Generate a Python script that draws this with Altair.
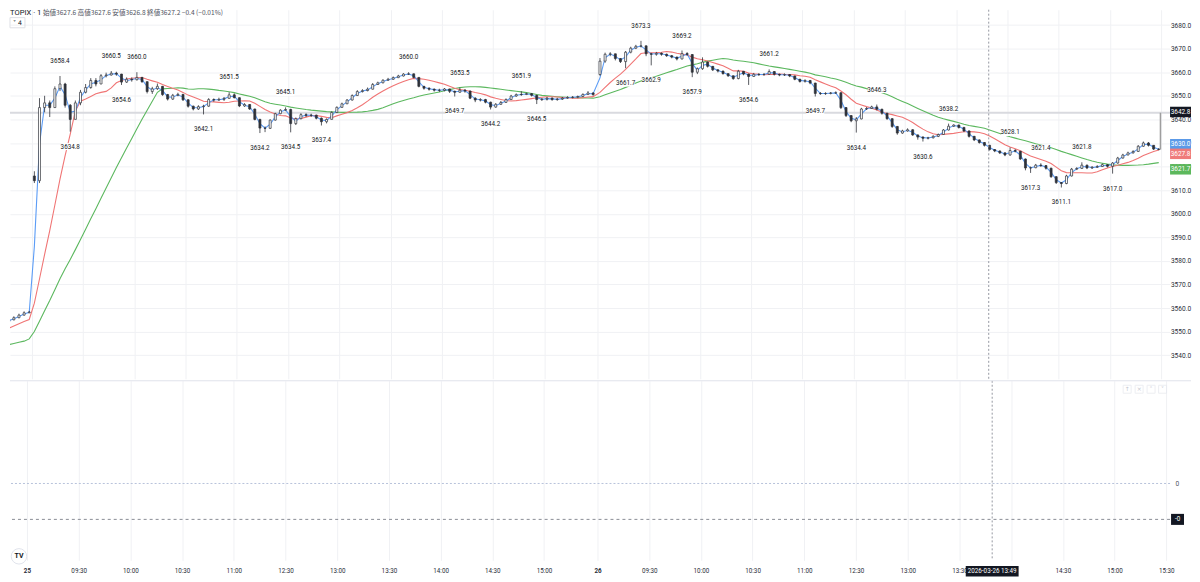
import altair as alt
import pandas as pd

# ---------------- data (3-minute candles) ----------------
# tail of the previous session (only the last few candles are inside the view)
pre_close = [3534.5, 3535.2, 3536.0, 3535.6, 3537.0, 3538.2, 3539.0, 3540.5, 3541.2, 3542.8,
             3544.0, 3545.2, 3546.0, 3547.5, 3548.3, 3549.6, 3550.4, 3551.8, 3552.6, 3553.4,
             3554.2, 3555.0, 3555.9, 3557.0, 3558.0, 3558.3]
pre_high = [3535.2, 3535.9, 3536.6, 3536.4, 3537.6, 3538.8, 3539.7, 3541.1, 3541.9, 3543.4,
            3544.6, 3545.8, 3546.7, 3548.1, 3549.0, 3550.2, 3551.0, 3552.4, 3553.2, 3554.0,
            3554.8, 3555.6, 3556.5, 3557.6, 3558.6, 3558.8]
pre_low = [3533.8, 3534.3, 3535.1, 3535.0, 3535.4, 3536.8, 3538.1, 3538.8, 3540.4, 3541.0,
           3542.6, 3543.8, 3545.1, 3545.8, 3547.4, 3548.1, 3549.5, 3550.2, 3551.6, 3552.4,
           3553.3, 3554.0, 3554.8, 3555.7, 3556.8, 3557.8]

# 25 Mar
d1_close = [3614.0, 3645.0, 3647.0, 3645.0, 3653.0, 3655.0, 3646.0, 3640.0, 3647.0, 3651.5,
            3653.5, 3656.5, 3655.0, 3658.5, 3658.8, 3659.6, 3659.2, 3655.8, 3657.0, 3656.8,
            3657.8, 3656.0, 3651.8, 3653.0, 3654.0, 3650.5, 3648.6, 3650.2, 3650.6, 3648.3,
            3645.6, 3644.4, 3645.4, 3645.6, 3648.4, 3648.2, 3648.5, 3648.9, 3650.4, 3649.2,
            3645.7, 3646.3, 3644.4, 3640.0, 3636.3, 3636.2, 3639.7, 3642.4, 3643.9, 3644.2,
            3638.2, 3640.3, 3642.0, 3641.7, 3641.8, 3640.5, 3639.0, 3640.0, 3642.9, 3645.1,
            3646.6, 3648.2, 3650.1, 3651.8, 3652.2, 3652.8, 3654.8, 3655.5, 3656.6, 3657.0,
            3657.7, 3658.4, 3659.2, 3659.3, 3657.8, 3654.0, 3653.2, 3652.8, 3652.4, 3652.3,
            3652.9, 3651.9, 3651.5, 3652.4, 3652.0, 3649.0, 3648.2, 3648.4, 3647.3, 3645.2,
            3646.4, 3647.2, 3648.4, 3649.9, 3650.5, 3650.6, 3650.9, 3650.2, 3648.4, 3648.6,
            3649.0, 3648.4, 3648.6, 3649.0, 3649.3, 3649.4, 3649.7, 3650.6, 3651.2, 3650.5]
d1_high = [3618.0, 3649.0, 3650.0, 3648.0, 3654.0, 3658.4, 3655.5, 3646.5, 3648.0, 3652.5,
           3655.0, 3657.5, 3657.5, 3659.2, 3659.8, 3660.5, 3660.2, 3659.3, 3657.8, 3657.8,
           3660.0, 3658.0, 3656.0, 3653.8, 3655.2, 3654.2, 3650.8, 3650.8, 3651.3, 3650.8,
           3648.5, 3645.8, 3646.0, 3646.2, 3649.0, 3648.9, 3649.2, 3649.5, 3651.5, 3651.0,
           3649.3, 3646.9, 3646.5, 3644.5, 3640.2, 3637.0, 3640.0, 3642.8, 3644.3, 3645.1,
           3644.5, 3640.8, 3642.6, 3642.6, 3642.4, 3642.0, 3640.8, 3640.4, 3643.4, 3645.5,
           3647.1, 3648.6, 3650.6, 3652.4, 3652.8, 3653.5, 3655.4, 3656.0, 3657.0, 3657.6,
           3658.2, 3658.9, 3659.6, 3660.0, 3659.4, 3657.8, 3654.2, 3653.6, 3653.1, 3653.0,
           3653.3, 3653.0, 3652.2, 3653.5, 3652.8, 3652.2, 3649.4, 3649.0, 3648.7, 3647.5,
           3646.9, 3647.8, 3648.9, 3650.4, 3651.0, 3651.9, 3651.3, 3651.2, 3650.4, 3649.0,
           3649.5, 3649.3, 3649.1, 3649.5, 3649.8, 3649.9, 3650.1, 3651.0, 3652.0, 3651.5]
d1_low = [3613.0, 3613.0, 3643.0, 3641.0, 3645.0, 3652.0, 3645.0, 3634.8, 3640.0, 3646.0,
          3651.0, 3653.0, 3654.0, 3655.0, 3657.8, 3658.6, 3658.5, 3654.6, 3655.5, 3656.0,
          3656.5, 3655.5, 3651.0, 3650.8, 3652.5, 3650.0, 3648.0, 3648.3, 3649.8, 3647.8,
          3645.0, 3643.8, 3644.0, 3642.1, 3645.3, 3647.5, 3647.9, 3647.8, 3648.8, 3648.9,
          3645.2, 3645.3, 3644.0, 3639.6, 3634.2, 3634.6, 3636.0, 3639.5, 3642.2, 3643.5,
          3634.5, 3637.6, 3640.0, 3641.0, 3641.0, 3640.0, 3637.4, 3638.3, 3640.0, 3642.8,
          3645.0, 3646.5, 3648.0, 3650.0, 3651.4, 3651.9, 3652.7, 3654.6, 3655.3, 3656.3,
          3656.8, 3657.5, 3658.2, 3658.9, 3657.4, 3653.6, 3652.6, 3652.2, 3651.8, 3651.6,
          3651.9, 3651.2, 3649.7, 3651.3, 3651.3, 3648.6, 3647.3, 3647.6, 3646.8, 3644.2,
          3645.0, 3646.2, 3647.0, 3648.2, 3649.6, 3650.0, 3650.3, 3649.7, 3646.5, 3647.8,
          3648.0, 3647.9, 3647.9, 3648.3, 3648.7, 3648.9, 3649.0, 3649.5, 3650.5, 3650.0]

# 26 Mar
d2_close = [3664.7, 3667.6, 3667.8, 3665.8, 3664.5, 3668.5, 3670.2, 3671.0, 3671.2, 3667.8,
            3667.6, 3668.0, 3667.6, 3667.0, 3666.4, 3665.6, 3667.9, 3667.5, 3660.0, 3661.5,
            3664.3, 3662.5, 3661.0, 3660.5, 3659.4, 3658.5, 3657.3, 3660.4, 3659.2, 3658.2,
            3659.1, 3659.0, 3659.1, 3660.3, 3659.1, 3658.8, 3659.0, 3658.4, 3657.0, 3656.1,
            3656.5, 3655.4, 3651.0, 3650.9, 3651.0, 3651.2, 3651.3, 3645.0, 3641.6, 3639.4,
            3640.2, 3644.4, 3644.6, 3645.3, 3644.3, 3642.6, 3640.3, 3637.0, 3634.2, 3635.1,
            3635.6, 3633.4, 3632.5, 3632.0, 3632.2, 3632.8, 3633.6, 3635.5, 3637.1, 3637.6,
            3636.6, 3635.1, 3632.8, 3631.3, 3630.2, 3629.0, 3627.2, 3626.6, 3625.8, 3624.9,
            3626.8, 3626.5, 3623.2, 3619.4, 3619.5, 3620.6, 3620.4, 3619.3, 3615.7, 3613.2,
            3612.8, 3616.0, 3618.9, 3619.2, 3620.6, 3619.4, 3619.7, 3620.0, 3620.8, 3620.1,
            3621.5, 3623.6, 3624.9, 3625.8, 3626.4, 3628.6, 3630.0, 3629.0, 3627.4, 3627.2]
d2_high = [3666.0, 3668.3, 3668.5, 3667.8, 3666.0, 3669.0, 3670.8, 3671.6, 3673.3, 3671.2,
           3668.2, 3668.6, 3668.4, 3667.9, 3667.3, 3666.6, 3669.2, 3668.5, 3667.6, 3662.0,
           3666.3, 3664.5, 3662.6, 3661.2, 3660.6, 3659.5, 3658.5, 3661.0, 3660.5, 3659.4,
           3659.7, 3659.6, 3659.6, 3661.2, 3660.4, 3659.4, 3659.5, 3659.2, 3658.5, 3657.2,
           3657.0, 3656.7, 3655.5, 3651.6, 3651.5, 3651.6, 3651.9, 3651.4, 3645.2, 3641.8,
           3641.0, 3644.9, 3645.2, 3645.8, 3646.3, 3644.5, 3642.8, 3640.5, 3637.2, 3635.6,
           3636.2, 3635.8, 3633.6, 3632.8, 3632.6, 3633.3, 3634.0, 3635.9, 3638.2, 3637.9,
           3637.8, 3636.8, 3635.3, 3633.0, 3631.5, 3630.4, 3629.2, 3627.4, 3626.8, 3625.9,
           3628.1, 3627.4, 3626.6, 3623.4, 3620.0, 3621.1, 3621.4, 3620.6, 3619.5, 3615.9,
           3613.4, 3616.5, 3619.4, 3619.7, 3621.8, 3620.8, 3620.2, 3620.6, 3621.3, 3621.0,
           3621.9, 3624.1, 3625.4, 3626.3, 3626.9, 3629.1, 3630.6, 3630.4, 3629.0, 3627.8]
d2_low = [3658.5, 3664.0, 3666.8, 3665.0, 3663.9, 3661.7, 3668.0, 3669.8, 3670.5, 3666.8,
          3662.9, 3667.0, 3667.0, 3666.5, 3665.9, 3665.0, 3665.5, 3667.0, 3657.9, 3659.2,
          3661.0, 3662.0, 3660.5, 3659.9, 3659.0, 3658.0, 3656.8, 3657.0, 3658.7, 3654.6,
          3658.0, 3658.4, 3658.5, 3658.9, 3658.6, 3658.3, 3658.4, 3657.9, 3656.6, 3655.6,
          3655.6, 3654.9, 3649.7, 3650.4, 3650.4, 3650.6, 3650.8, 3644.4, 3641.0, 3638.8,
          3634.4, 3640.0, 3644.0, 3644.4, 3643.8, 3642.0, 3639.8, 3636.4, 3633.5, 3633.9,
          3634.8, 3633.0, 3631.4, 3630.6, 3631.5, 3631.9, 3632.5, 3633.4, 3635.3, 3636.8,
          3636.1, 3634.6, 3632.3, 3630.8, 3629.7, 3628.5, 3626.8, 3626.1, 3625.3, 3624.4,
          3624.6, 3626.0, 3622.8, 3618.4, 3617.3, 3619.3, 3619.9, 3618.7, 3615.2, 3612.6,
          3611.1, 3612.5, 3615.8, 3618.5, 3619.0, 3618.9, 3619.0, 3619.4, 3619.8, 3619.6,
          3617.0, 3621.2, 3623.4, 3624.8, 3625.5, 3626.2, 3628.4, 3628.5, 3627.0, 3626.9]

session_open = [3534.0, 3616.0, 3659.0]       # first traded price of each block
session_start = [-78, 0, 331]                 # trading-minute index where each block begins
BAR_MIN = 3                                   # minutes per candle

# swing high / low annotations: (block, candle index, value, kind)
label_block = [1] * 17 + [2] * 18
label_idx = [5, 7, 15, 17, 20, 33, 38, 44, 49, 50, 56, 73, 82, 83, 89, 95, 98,
             5, 8, 10, 16, 18, 29, 33, 42, 50, 54, 63, 68, 80, 84, 86, 90, 94, 100]
label_val = [3658.4, 3634.8, 3660.5, 3654.6, 3660.0, 3642.1, 3651.5, 3634.2, 3645.1, 3634.5,
             3637.4, 3660.0, 3649.7, 3653.5, 3644.2, 3651.9, 3646.5,
             3661.7, 3673.3, 3662.9, 3669.2, 3657.9, 3654.6, 3661.2, 3649.7, 3634.4, 3646.3,
             3630.6, 3638.2, 3628.1, 3617.3, 3621.4, 3611.1, 3621.8, 3617.0]
label_kind = ["H", "L", "H", "L", "H", "L", "H", "L", "H", "L", "L", "H", "L", "H", "L", "H", "L",
              "L", "H", "L", "H", "L", "L", "H", "L", "L", "H", "L", "H", "H", "L", "H", "L", "H", "L"]

# time axis (the 14:00 label of the 26th is hidden under the cursor's time tag)
tick_vals = [0, 30, 60, 90, 120, 150, 180, 210, 240, 270, 300,
             331, 361, 391, 421, 451, 481, 511, 541, 571, 601, 631, 661]
tick_text = ["25", "09:30", "10:00", "10:30", "11:00", "12:30", "13:00", "13:30", "14:00", "14:30", "15:00",
             "26", "09:30", "10:00", "10:30", "11:00", "12:30", "13:00", "13:30", "", "14:30", "15:00", "15:30"]
price_ticks = [3540, 3550, 3560, 3570, 3580, 3590, 3600, 3610, 3620, 3630, 3640, 3650, 3660, 3670, 3680]

cursor_t = [560]
cursor_price = [3642.8]
cursor_time_text = "2026-03-26  13:49"
closing_t = [660.5]
closing_lo = [3627.2]
closing_hi = [3642.8]

box_vals = [3642.8, 3630.0, 3627.8, 3621.7]
indicator_levels = [0.0, -0.3]
indicator_texts = ["0", "-0"]

header_symbol = "TOPIX · 1"
header_ohlc = "始値3627.6  高値3627.6  安値3626.8  終値3627.2  −0.4 (−0.01%)"
header_badge = "˅ 4"

# ---------------- build tables ----------------
rows = []
blocks = [(pre_close, pre_high, pre_low), (d1_close, d1_high, d1_low), (d2_close, d2_high, d2_low)]
for b, (cl, hi, lo) in enumerate(blocks):
    prev = session_open[b]
    for i, (c, h, l) in enumerate(zip(cl, hi, lo)):
        rows.append({"t": session_start[b] + BAR_MIN * i + BAR_MIN / 2, "o": prev, "h": h, "l": l, "c": c})
        prev = c
df = pd.DataFrame(rows)

lab_df = pd.DataFrame({
    "t": [session_start[b] + BAR_MIN * i + BAR_MIN / 2 for b, i in zip(label_block, label_idx)],
    "v": label_val,
    "kind": label_kind,
})

# ---------------- styling ----------------
W, H1, H2 = 1163, 370, 180
X_DOMAIN = [-9.84, 663.2]
Y_DOMAIN = [3530.0, 3686.5]
LOW_DOMAIN = [-0.642, 0.858]
INK = "#131722"
CANDLE = "#2e3138"
GRID = "#f0f1f4"
FONT = "Roboto"
CJK = "Noto Sans CJK JP"
BLUE, RED, GREEN = "#5b9cf6", "#f07575", "#5cb85f"
box_colors = [INK, "#5b9ae8", "#ef7b7b", "#5cb85c"]
box_offsets = [-0.8, 1.3, 5.7, 6.8]
RECT = "M-1,-0.39L1,-0.39L1,0.39L-1,0.39Z"
AX_C = 10.5          # centre of the price-scale labels right of the plot

xs = alt.Scale(domain=X_DOMAIN, nice=False, zero=False)
ys = alt.Scale(domain=Y_DOMAIN, nice=False, zero=False)
yl = alt.Scale(domain=LOW_DOMAIN, nice=False, zero=False)

x_grid_axis = alt.Axis(values=tick_vals, labels=False, ticks=False, domain=False, grid=True,
                       gridColor=GRID, title=None, zindex=0)
y_axis = alt.Axis(values=price_ticks, format=".1f", orient="right", grid=True, gridColor=GRID,
                  ticks=False, tickSize=0, domain=False, labelPadding=AX_C, labelAlign="center",
                  labelFontSize=6.6, labelColor="#2a2e39", labelFont=FONT, title=None, zindex=0)


def X(field="t:Q"):
    return alt.X(field, scale=xs, axis=x_grid_axis)


def Y(field):
    return alt.Y(field, scale=ys, axis=y_axis)


base = (alt.Chart(df)
        .transform_window(ma_s="mean(c)", frame=[-1, 0], sort=[alt.SortField("t")])
        .transform_window(ma_m="mean(c)", frame=[-8, 0], sort=[alt.SortField("t")])
        .transform_window(ma_l="mean(c)", frame=[-24, 0], sort=[alt.SortField("t")]))

hline = alt.Chart(pd.DataFrame({"v": cursor_price})).mark_rule(color="#d9dadf", strokeWidth=2).encode(
    y=Y("v:Q"), x=alt.value(0), x2=alt.value(W))

ma_green = base.mark_line(color=GREEN, strokeWidth=1.1, clip=True).encode(x=X(), y=Y("ma_l:Q"))
ma_red = base.mark_line(color=RED, strokeWidth=1.1, clip=True).encode(x=X(), y=Y("ma_m:Q"))
ma_blue = base.mark_line(color=BLUE, strokeWidth=1.1, clip=True).encode(x=X(), y=Y("ma_s:Q"))

wick = base.mark_rule(color=CANDLE, strokeWidth=0.8, clip=True).encode(x=X(), y=Y("l:Q"), y2="h:Q")
body = base.mark_bar(size=2.0, stroke=CANDLE, strokeWidth=0.7, clip=True).encode(
    x=X(), y=Y("o:Q"), y2="c:Q",
    fill=alt.condition("datum.c >= datum.o", alt.value("#ffffff"), alt.value(CANDLE)))

closing = alt.Chart(pd.DataFrame({"t": closing_t, "lo": closing_lo, "hi": closing_hi})).mark_rule(
    color="#9e9e9e", strokeWidth=1.5).encode(x=X(), y=Y("lo:Q"), y2="hi:Q")

lab_layers = []
for kind, off in [("H", -15), ("L", 15)]:
    src = alt.Chart(lab_df).transform_filter(f"datum.kind == '{kind}'")
    lab_layers.append(src.mark_point(shape=RECT, size=324, filled=True, color="white", opacity=1,
                                     yOffset=off).encode(x=X(), y=Y("v:Q")))
    lab_layers.append(src.mark_text(fontSize=6.3, font=FONT, color=INK, yOffset=off, baseline="middle").encode(
        x=X(), y=Y("v:Q"), text=alt.Text("v:Q", format=".1f")))

vcross = alt.Chart(pd.DataFrame({"t": cursor_t})).mark_rule(
    color="#9598a1", strokeDash=[2, 2], strokeWidth=1).encode(x=X())

box_layers = []
for v, col, off in zip(box_vals, box_colors, box_offsets):
    src = alt.Chart(pd.DataFrame({"v": [v]}))
    box_layers.append(src.mark_point(shape="M-1,-0.5L1,-0.5L1,0.5L-1,0.5Z", size=441, filled=True,
                                     color=col, opacity=1, yOffset=off).encode(
        x=alt.value(W + AX_C), y=Y("v:Q")))
    box_layers.append(src.mark_text(fontSize=6.4, font=FONT, color="white", yOffset=off, baseline="middle").encode(
        x=alt.value(W + AX_C), y=Y("v:Q"), text=alt.Text("v:Q", format=".1f")))

one = alt.Chart(pd.DataFrame({"a": [0]}))
hdr1 = one.mark_text(align="left", baseline="middle", fontSize=7.6, font=FONT, color=INK).encode(
    x=alt.value(0), y=alt.value(3.5), text=alt.value(header_symbol))
hdr2 = one.mark_text(align="left", baseline="middle", fontSize=6.6, font=CJK, color="#50535e").encode(
    x=alt.value(33), y=alt.value(3.5), text=alt.value(header_ohlc))
badge_box = one.mark_point(shape="M-1,-0.68L1,-0.68L1,0.68L-1,0.68Z", size=225, filled=False,
                           color="#d1d4dc", strokeWidth=1).encode(x=alt.value(7.5), y=alt.value(13))
badge_txt = one.mark_text(fontSize=6.3, font="DejaVu Sans", color=INK, baseline="middle").encode(
    x=alt.value(7.5), y=alt.value(13), text=alt.value(header_badge))

top = alt.layer(hline, ma_green, ma_red, ma_blue, wick, body, closing, *lab_layers, vcross,
                *box_layers, hdr1, hdr2, badge_box, badge_txt).properties(width=W, height=H1)

# ---------------- lower (indicator) pane ----------------
label_expr = " : ".join(f"datum.value == {v} ? '{s}'" for v, s in zip(tick_vals, tick_text)) + " : ''"
low_x_axis = alt.Axis(values=tick_vals, labelExpr=label_expr, labelFontSize=6.3, labelFont=FONT,
                      labelColor="#2a2e39", labelPadding=7, ticks=False, tickSize=0, domain=False, grid=True,
                      gridColor=GRID, labelOverlap=False, labelFlush=False, title=None, zindex=0,
                      labelFontWeight={"condition": {"test": "datum.value == 0 || datum.value == 331",
                                                     "value": "bold"}, "value": "normal"})
low_y_axis = alt.Axis(values=[0], format="d", orient="right", ticks=False, tickSize=0, domain=False,
                      grid=False, labelPadding=5, labelAlign="left", labelFontSize=6.6, labelFont=FONT,
                      labelColor="#50535e", title=None, zindex=0)

lev = pd.DataFrame({"v": indicator_levels, "txt": indicator_texts, "kind": ["zero", "neg"]})
cross_df = pd.DataFrame({"t": cursor_t})

low_vcross = alt.Chart(cross_df).mark_rule(color="#9598a1", strokeDash=[2, 2], strokeWidth=1).encode(
    x=alt.X("t:Q", scale=xs, axis=low_x_axis))
zero_line = alt.Chart(lev).transform_filter("datum.kind == 'zero'").mark_rule(
    color="#b7c2da", strokeDash=[2, 2], strokeWidth=1).encode(y=alt.Y("v:Q", scale=yl, axis=low_y_axis))
neg_line = alt.Chart(lev).transform_filter("datum.kind == 'neg'").mark_rule(
    color="#8a8d96", strokeDash=[3, 3], strokeWidth=1).encode(y=alt.Y("v:Q", scale=yl, axis=low_y_axis))
sep = one.mark_rule(color="#e0e3eb", strokeWidth=1).encode(
    y=alt.datum(LOW_DOMAIN[1]), x=alt.value(0), x2=alt.value(W + 21))
neg_box = alt.Chart(lev).transform_filter("datum.kind == 'neg'").mark_point(
    shape="M-1,-0.85L1,-0.85L1,0.85L-1,0.85Z", size=169, filled=True, color=INK, opacity=1).encode(
    x=alt.value(W + 7.5), y=alt.Y("v:Q", scale=yl, axis=low_y_axis))
neg_txt = alt.Chart(lev).transform_filter("datum.kind == 'neg'").mark_text(
    fontSize=6.3, font=FONT, color="white", baseline="middle").encode(
    x=alt.value(W + 7.5), y=alt.Y("v:Q", scale=yl, axis=low_y_axis), text="txt:N")
time_box = alt.Chart(cross_df).mark_point(shape="M-1,-0.2L1,-0.2L1,0.2L-1,0.2Z", size=2809,
                                          filled=True, color=INK, opacity=1).encode(
    x=alt.X("t:Q", scale=xs, axis=low_x_axis), y=alt.value(H2 + 11))
time_txt = alt.Chart(cross_df).mark_text(fontSize=6.3, font=FONT, color="white", baseline="middle").encode(
    x=alt.X("t:Q", scale=xs, axis=low_x_axis), y=alt.value(H2 + 11), text=alt.value(cursor_time_text))
logo = one.mark_point(shape="circle", size=240, filled=True, color="white", stroke="#e0e3eb",
                      strokeWidth=1, opacity=1).encode(x=alt.value(9), y=alt.value(H2 - 4))
logo_txt = one.mark_text(fontSize=7, font=FONT, fontWeight="bold", color=INK, baseline="middle").encode(
    x=alt.value(9), y=alt.value(H2 - 4), text=alt.value("TV"))
btn_x = [W - 43, W - 31, W - 19, W - 7.5]
btn_glyph = ["↑", "×", "˄", "˅"]
btn_layers = []
for bx, g in zip(btn_x, btn_glyph):
    btn_layers.append(one.mark_point(shape="M-1,-1L1,-1L1,1L-1,1Z", size=64, filled=False, color="#e6e8ee",
                                     strokeWidth=1).encode(x=alt.value(bx), y=alt.value(8.5)))
    btn_layers.append(one.mark_text(fontSize=6, font="DejaVu Sans", color="#c4c7cf", baseline="middle").encode(
        x=alt.value(bx), y=alt.value(8.5), text=alt.value(g)))

bottom = alt.layer(low_vcross, zero_line, neg_line, sep, neg_box, neg_txt, time_box, time_txt,
                   logo, logo_txt, *btn_layers).properties(width=W, height=H2)

chart = (alt.vconcat(top, bottom, spacing=0)
         .properties(padding=0, background="white")
         .configure_view(stroke=None)
         .configure_axis(labelFont=FONT))

chart.save("out.html", embed_options={"renderer": "svg", "actions": False})
